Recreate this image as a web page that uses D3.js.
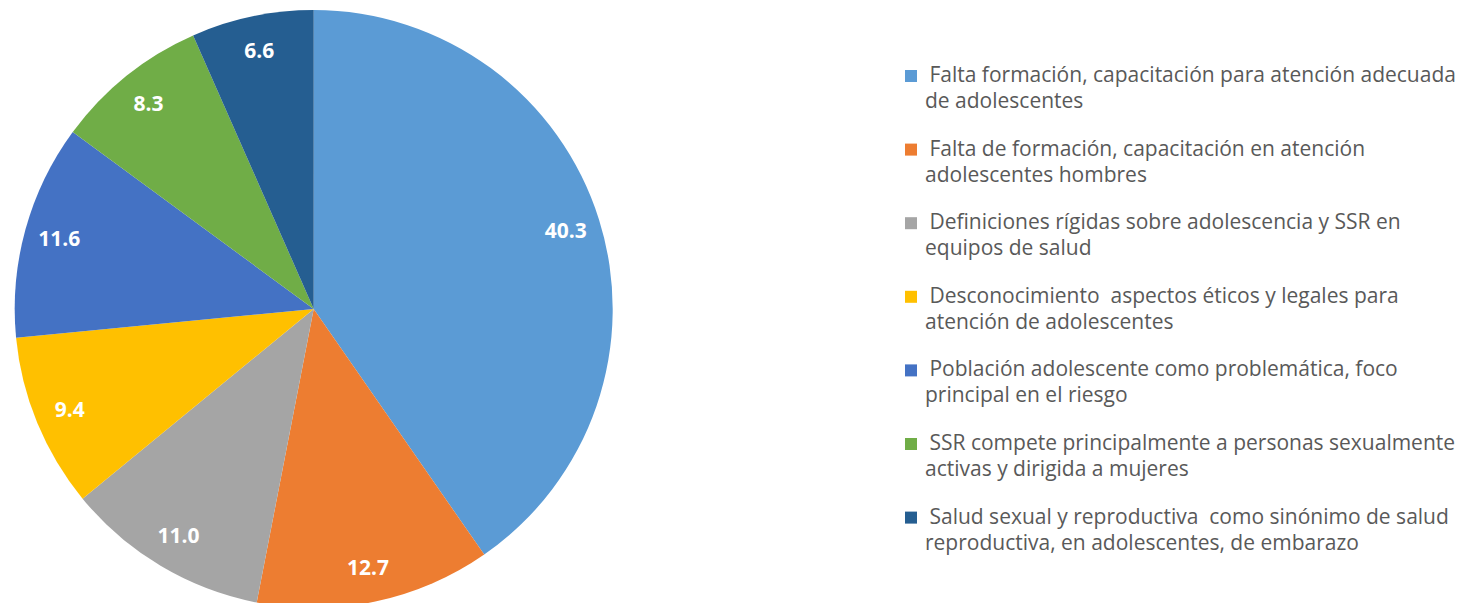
<!DOCTYPE html>
<html><head><meta charset="utf-8">
<script src="https://cdn.jsdelivr.net/npm/d3@7"></script>
<style>
html,body{margin:0;padding:0;background:#fff;}
svg{display:block;}
text{white-space:pre;}
</style></head>
<body>
<svg id="chart" width="1475" height="603"></svg>
<script>
const categories = [
  "Falta formación, capacitación para atención adecuada de adolescentes",
  "Falta de formación, capacitación en atención adolescentes hombres",
  "Definiciones rígidas sobre adolescencia y SSR en equipos de salud",
  "Desconocimiento  aspectos éticos y legales para atención de adolescentes",
  "Población adolescente como problemática, foco principal en el riesgo",
  "SSR compete principalmente a personas sexualmente activas y dirigida a mujeres",
  "Salud sexual y reproductiva  como sinónimo de salud reproductiva, en adolescentes, de embarazo"
];
const legendLines = [
  ["Falta formación, capacitación para atención adecuada", "de adolescentes"],
  ["Falta de formación, capacitación en atención", "adolescentes hombres"],
  ["Definiciones rígidas sobre adolescencia y SSR en", "equipos de salud"],
  ["Desconocimiento  aspectos éticos y legales para", "atención de adolescentes"],
  ["Población adolescente como problemática, foco", "principal en el riesgo"],
  ["SSR compete principalmente a personas sexualmente", "activas y dirigida a mujeres"],
  ["Salud sexual y reproductiva  como sinónimo de salud", "reproductiva, en adolescentes, de embarazo"]
];
const values = [40.3, 12.7, 11.0, 9.4, 11.6, 8.3, 6.6];
const colors = ["#5B9BD5", "#ED7D31", "#A5A5A5", "#FFC000", "#4472C4", "#70AD47", "#255E91"];

const svg = d3.select("#chart");
const cx = 313.7, cy = 309, R = 299, labelR = 264;

const data = values.map((v, i) => ({value: v, name: categories[i], i}));
const pie = d3.pie().value(d => d.value).sort(null);
const arcs = pie(data);
const arc = d3.arc().innerRadius(0).outerRadius(R);
const labelArc = d3.arc().innerRadius(labelR).outerRadius(labelR);

const g = svg.append("g").attr("transform", `translate(${cx},${cy})`);
g.selectAll("path").data(arcs).enter().append("path")
  .attr("d", arc)
  .attr("fill", d => colors[d.data.i]);

g.selectAll("text.lbl").data(arcs).enter().append("text")
  .attr("class", "lbl")
  .attr("transform", d => `translate(${labelArc.centroid(d)})`)
  .attr("text-anchor", "middle")
  .attr("dy", "0.36em")
  .attr("fill", "#fff")
  .attr("font-family", "'Open Sans', sans-serif")
  .attr("font-weight", "bold")
  .attr("font-size", "21px")
  .text(d => d3.format(".1f")(d.data.value));

const leg = svg.append("g").attr("transform", "translate(905,0)");
const step = 73.6, base0 = 82;
legendLines.forEach((lines, i) => {
  const y = base0 + i * step;
  leg.append("rect").attr("x", 0).attr("y", y - 12).attr("width", 12).attr("height", 12)
    .attr("fill", colors[i]);
  const t = leg.append("text")
    .attr("font-family", "'Open Sans', sans-serif")
    .attr("font-size", "21px")
    .attr("fill", "#595959");
  t.append("tspan").attr("x", 19).attr("y", y).text(" " + lines[0]);
  t.append("tspan").attr("x", 20).attr("y", y + 26).text(lines[1]);
});
</script>
</body></html>
